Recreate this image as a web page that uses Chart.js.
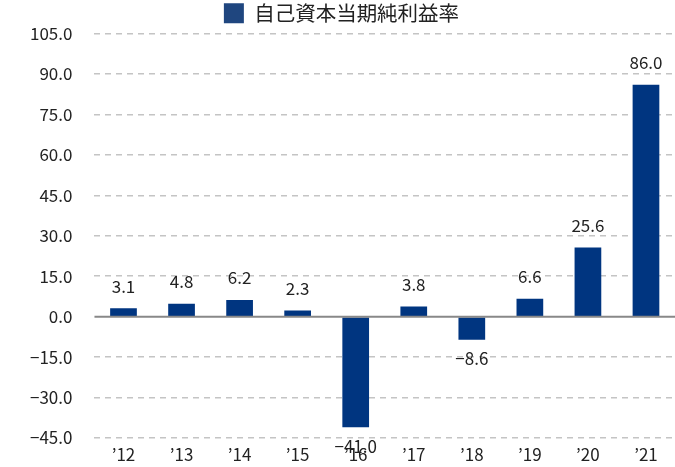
<!DOCTYPE html>
<html>
<head>
<meta charset="utf-8">
<script src="https://cdn.jsdelivr.net/npm/chart.js@4"></script>
<style>
  body { margin: 0; background: #fff; }
</style>
</head>
<body>
<canvas id="roeChart" width="675" height="467"></canvas>
<script>
const years = ["’12", "’13", "’14", "’15", "’16", "’17", "’18", "’19", "’20", "’21"];
const roe = [3.1, 4.8, 6.2, 2.3, -41.0, 3.8, -8.6, 6.6, 25.6, 86.0];
const seriesName = "自己資本当期純利益率";

const FONT = "'Noto Sans CJK JP', 'Noto Sans', sans-serif";
const fmt = v => (v < 0 ? "−" + Math.abs(v).toFixed(1) : v.toFixed(1));

const extras = {
    id: "extras",
    afterDatasetsDraw(chart) {
        const ctx = chart.ctx;
        const y = chart.scales.y;
        const area = chart.chartArea;
        const y0 = y.getPixelForValue(0);
        ctx.save();
        ctx.strokeStyle = "#888888";
        ctx.lineWidth = 2;
        ctx.beginPath();
        ctx.moveTo(area.left, y0);
        ctx.lineTo(area.right, y0);
        ctx.stroke();

        ctx.fillStyle = "#222222";
        ctx.font = "17px " + FONT;
        ctx.textAlign = "center";
        ctx.textBaseline = "middle";
        chart.getDatasetMeta(0).data.forEach((bar, i) => {
            const v = roe[i];
            const ty = v >= 0 ? bar.y - 22 : bar.y + 19;
            ctx.fillText(fmt(v), bar.x, ty);
        });
        ctx.restore();
    }
};

new Chart(document.getElementById("roeChart"), {
    type: "bar",
    data: {
        labels: years,
        datasets: [{
            label: seriesName,
            data: roe,
            backgroundColor: "#003580",
            borderWidth: 0,
            categoryPercentage: 1,
            barPercentage: 0.46
        }]
    },
    options: {
        responsive: false,
        animation: false,
        layout: { padding: { top: 0, right: 0, left: 8, bottom: -4 } },
        plugins: {
            legend: {
                labels: {
                    boxWidth: 20,
                    boxHeight: 20,
                    padding: 3,
                    color: "#222222",
                    font: { size: 20.5, family: FONT, lineHeight: 1 },
                    generateLabels: () => [{
                        text: seriesName,
                        fillStyle: "#1f467f",
                        strokeStyle: "#1f467f",
                        lineWidth: 0,
                        fontColor: "#222222"
                    }]
                }
            },
            tooltip: { enabled: false }
        },
        scales: {
            x: {
                grid: { display: false, drawTicks: false },
                border: { display: false },
                ticks: { color: "#222222", font: { size: 17, family: FONT, lineHeight: 1 }, padding: 8, autoSkip: false, maxRotation: 0 }
            },
            y: {
                min: -45,
                max: 105,
                border: { display: false, dash: [6, 5] },
                grid: {
                    drawTicks: false,
                    color: c => (c.tick && c.tick.value === 0 ? "rgba(0,0,0,0)" : "#c4c4c4"),
                    lineWidth: 1.5
                },
                ticks: {
                    stepSize: 15,
                    autoSkip: false,
                    padding: 22,
                    color: "#222222",
                    font: { size: 17, family: FONT, lineHeight: 0.5 },
                    callback: v => fmt(v)
                }
            }
        }
    },
    plugins: [extras]
});
</script>
</body>
</html>
